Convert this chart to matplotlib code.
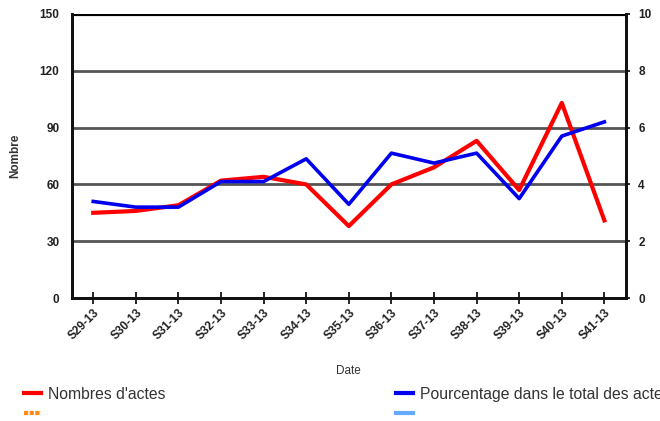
import matplotlib.pyplot as plt
from matplotlib.lines import Line2D

weeks = ["S29-13", "S30-13", "S31-13", "S32-13", "S33-13", "S34-13", "S35-13",
         "S36-13", "S37-13", "S38-13", "S39-13", "S40-13", "S41-13"]
nombres = [45, 46, 49, 62, 64, 60, 38, 60, 69, 83, 57, 103, 41]
pourcentage = [3.4, 3.2, 3.2, 4.1, 4.1, 4.9, 3.3, 5.1, 4.75, 5.1, 3.5, 5.7, 6.2]

plt.rcParams['font.family'] = ['Liberation Sans', 'DejaVu Sans']

fig = plt.figure(figsize=(6.6, 4.21), dpi=100)
ax = fig.add_axes([0.109, 0.292, 0.839, 0.675])
ax2 = ax.twinx()

x = list(range(len(weeks)))
ax.plot(x, nombres, color='#ff0000', lw=3, solid_joinstyle='round', zorder=3)
ax2.plot(x, pourcentage, color='#0000ee', lw=2.6, solid_joinstyle='round', zorder=3)

ax.set_xlim(-0.5, len(weeks) - 0.5)
ax.set_ylim(0, 150)
ax.set_yticks([0, 30, 60, 90, 120, 150])
ax2.set_ylim(0, 10)
ax2.set_yticks([0, 2, 4, 6, 8, 10])

for y in [30, 60, 90, 120]:
    ax.axhline(y, color='#555555', lw=2, zorder=1)
ax.axhline(150, color='black', lw=3, zorder=1)

ax.set_xticks(x)
ax.set_xticklabels(weeks, rotation=45, ha='right', rotation_mode='anchor')
for lab in ax.get_xticklabels() + ax.get_yticklabels() + ax2.get_yticklabels():
    lab.set_fontsize(8.5)
    lab.set_fontweight('bold')
    lab.set_color('#222222')
ax.tick_params(axis='x', direction='inout', length=8, width=1.2, pad=2)
ax.tick_params(axis='y', length=0, pad=9)
ax2.tick_params(axis='y', direction='out', length=3, width=1.2, pad=6)

for a in (ax, ax2):
    a.spines['top'].set_visible(False)
    for s in ['left', 'right', 'bottom']:
        a.spines[s].set_linewidth(2)
        a.spines[s].set_color('#111111')

ax.set_ylabel("Nombre", fontsize=8.5, fontweight='bold', color='#333333', labelpad=13)
ax.set_xlabel("Date", fontsize=8.5, color='#333333', labelpad=17)

handles = [
    Line2D([], [], color='#ff0000', lw=3),
    Line2D([], [], color='#ff8c1a', lw=3, ls=(0, (1, 0.35))),
    Line2D([], [], color='#0000ee', lw=3),
    Line2D([], [], color='#66aaff', lw=3),
]
labels = ["Nombres d'actes", "", "Pourcentage dans le total des actes", ""]
fig.legend(handles, labels, ncol=2, loc='upper left', bbox_to_anchor=(0.036, 0.081),
           frameon=False, fontsize=11.3, handlelength=1.08, handletextpad=0.45,
           columnspacing=14.7, labelspacing=0.3, borderaxespad=0, borderpad=0,
           labelcolor='#333333')

fig.savefig("out.png", dpi=100)
